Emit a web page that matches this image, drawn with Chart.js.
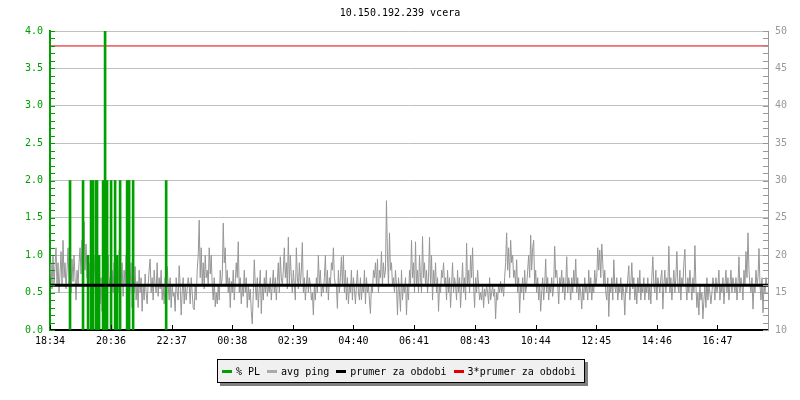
<!DOCTYPE html>
<html>
<head>
<meta charset="utf-8">
<script src="https://cdn.jsdelivr.net/npm/chart.js@4/dist/chart.umd.min.js"></script>
<style>
  body { margin: 0; background: #fff; }
  #wrap { position: relative; width: 800px; height: 400px; font-family: "DejaVu Sans Mono", monospace; font-size: 10px; }
  #title { position: absolute; top: 7px; left: 0; width: 800px; text-align: center; color: #000; }
  #legend { position: absolute; left: 217px; top: 359px; width: 362px; height: 22px; border: 1px solid #000;
            background: #f0f0f0; box-shadow: 3px 3px 0 #808080; display: flex; align-items: center; padding-left: 4px; box-sizing: content-box; }
  #legend span.sw { display: inline-block; width: 10px; height: 3px; margin-right: 4px; }
  #legend span.tx { margin-right: 7px; color: #000; white-space: pre; }
</style>
</head>
<body>
<div id="wrap">
  <canvas id="c" width="800" height="400"></canvas>
  <div id="title">10.150.192.239 vcera</div>
  <div id="legend"></div>
</div>
<script>
// time axis: minutes from 18:34
var SPAN = 1434;
var tickMinutes = [0, 122, 243, 364, 485, 606, 727, 849, 970, 1091, 1212, 1333];
var tickLabels = ['18:34', '20:36', '22:37', '00:38', '02:39', '04:40', '06:41', '08:43', '10:44', '12:45', '14:46', '16:47'];

// avg ping [ms], evenly sampled over the day
var ping = [
  17,19,15.5,20,16,18.5,21,16,19,15,17.5,20.5,16,22,17,19,15.5,18,21,16,
  18,15,19.5,16.5,20,17,14,18,16,19,21,17.5,22,19,24.5,18,21.5,17,20,16,
  19,15,18,13,17,20,14.5,18,16,19.5,13.5,17,12.5,16,19,14,18,15.5,20,16,
  17,13.5,18,15,19,16.5,14,18,15,20.5,21.4,16,19,14.5,18,16,20,15,17.5,14,
  16,19,13,17,15,18.5,14,16.5,13,18,15,17,12.5,16,14,17.5,15,13.5,16,18,
  19.5,15,17,14,18,16,15,19,14.5,17,15.5,18,14,16,13.5,17,15,18.5,16,14,
  17,13,16,14.5,15,12.5,17,15,14,18.6,16,12,15,17,13.5,16,14,15.5,17,16,13.5,17,
  15,13,12.7,16,14,18,20,24.7,17,21,16,19,15.5,20,17,18,16,21,17.5,20,
  16,14,17,13.1,15,13.5,16,14,18,16,17,24.3,19,21,16,18,15,17,13,16.5,
  15,18,14,16.5,19,17,21.8,15,17,13.5,16,14.5,18,15,17,13,16,14,15.5,12.5,
  10.8,15,19.4,16,14,17,13,15.5,18,12.2,16,14,17,15,18,14.5,16,15,17,14,
  16,18,15,17,14,16.5,19,15,19.8,17,16,18,21,17,19,15.5,22.4,16,20,17,
  15,18,16,14,21,17,15.5,19,16,18,21.7,15,17,14,16,18,15,17,16,14,
  15,12,16,14,17,15,20,16,18,14.5,16,15,17,20,15,18,14,17,16,19,
  18,21,17,16,
  16,12.9,18,15,17,19.8,16,20,15,18,14,17,13.5,16,15,18,14,17,15.5,13.5,
  16,18,15,14,17,14,16,15,18,13.5,17,15,16,14,12.2,16,15,18,17,19,
  16,19.5,15,18,17,20.5,16,19,17,18,27.3,20,16,23,18,19,16,17,15,18,
  16,12,17,15,12.5,18,14,16,15,17,12,16,14,18,16,22,17,19,15,21.8,
  16,18,15,20,17,15,22.5,17,19,16,18,15,17,22.4,16,20,14,18,16,19,
  15,17,12.5,16,15,18,17,19,16,17,14,18,15,17,13,16,19,15,17,16,
  14,18,15,17,13,16,19,15,17,14,21.6,16,18,15,20,17,21,16,13,17,
  15,18,16,14,
  15,14,16,13,15.5,14.5,16,15,13.5,17,14,15,16,14.5,15.5,11.5,15,14,16,15,
  16.5,15,16,14.5,17,19,23,18,21,17,22,19,20,17,18,16,19.4,15,17,12.3,
  16,15,17,14,18,15,16,18,20,17,22.7,18,21,22,16,18,15,17,14,16,
  12.5,15,17,14,16,19.5,15,17,14,16,15,17,14.5,16,21.2,17,18,16,13.5,17,
  16,18,15,17,14,16,19.8,15,17,16,14,17,15,18,16,19.5,15,17,14,16,
  15,12.8,16,14,17,15,16,14,18,15,17,14,16,15,18,16,17,21,18,20.7,
  17,21.5,19,16,18,15,14,17,11.8,16,15,17,14,19.4,16,15,17,14,16,15,
  17,14,16,15,
  12,16,15,17,18.6,14,16,19,15.5,17,14,16,13.5,17,15,18,14,16,15,17,
  14,16,15,17,14,16,13.5,17,19.8,16,15,18,14,17,16,15,17,18,12.8,16,
  18,15,17,16,21.2,15,17,14,16,18,15,17,20.5,16,15,18,14,17,16,19,
  20.8,16,14,17,15,18,16,14,17,15,21.3,16,13,15,12,16,14,15,11.5,14,
  16,13,17,14,16,15,13.5,15,17,16,14,17,15,16,18,14,16,15,17,13.5,
  16,18,15,17,14,16,18,15,17,16,15,17,14,16,19.8,15,17,16,14,18,
  16,20.5,17,23,18,16,15,17,12.8,16,15,18,16,17,20.9,16,14,17,12.3,16,
  15,17,16,16
];

// packet loss [%] spikes
var plMinutes = [40, 66, 76, 82, 86, 92, 94, 98, 106, 110, 114, 122, 130, 134, 140, 154, 158, 166, 232];
var plValues  = [2, 2, 1, 2, 2, 2, 2, 1, 2, 4, 2, 2, 2, 1, 2, 2, 2, 2, 2];

var avgPing = 16;       // prumer za obdobi [ms]
var avgPing3 = 48;      // 3*prumer za obdobi [ms]

var GREEN = '#00a000', GRAY = 'rgb(150,150,150)', RED = '#e00000';

var pingData = ping.map(function (v, i) { return { x: i * SPAN / (ping.length - 1), y: v }; });
var plData = plMinutes.map(function (t, i) { return { x: t, y: plValues[i] }; });

// legend (html, rrdtool style box)
var legendItems = [['% PL', GREEN], ['avg ping', '#aaaaaa'], ['prumer za obdobi', '#000'], ['3*prumer za obdobi', RED]];
var lg = document.getElementById('legend');
legendItems.forEach(function (it) {
  var sw = document.createElement('span'); sw.className = 'sw'; sw.style.background = it[1];
  var tx = document.createElement('span'); tx.className = 'tx'; tx.textContent = it[0];
  lg.appendChild(sw); lg.appendChild(tx);
});

// small inward ticks like rrdtool
var innerTicks = {
  id: 'innerTicks',
  afterDatasetsDraw: function (chart) {
    var ctx = chart.ctx, a = chart.chartArea;
    var y = chart.scales.y, y1 = chart.scales.y1, x = chart.scales.x;
    ctx.save();
    ctx.lineWidth = 1;
    ctx.strokeStyle = GREEN;
    for (var v = 0; v <= 40; v++) {
      var py = Math.round(y.getPixelForValue(v / 10)) + 0.5;
      ctx.beginPath(); ctx.moveTo(a.left, py); ctx.lineTo(a.left + 5, py); ctx.stroke();
    }
    ctx.strokeStyle = '#999';
    for (var w = 10; w <= 50; w++) {
      var py2 = Math.round(y1.getPixelForValue(w)) + 0.5;
      ctx.beginPath(); ctx.moveTo(a.right - 5, py2); ctx.lineTo(a.right, py2); ctx.stroke();
    }
    ctx.strokeStyle = '#000';
    tickMinutes.forEach(function (t) {
      var px = Math.round(x.getPixelForValue(t)) + 0.5;
      ctx.beginPath(); ctx.moveTo(px, a.bottom); ctx.lineTo(px, a.bottom - 5); ctx.stroke();
    });
    ctx.restore();
  }
};

var font = { family: '"DejaVu Sans Mono", monospace', size: 10 };

new Chart(document.getElementById('c'), {
  type: 'bar',
  data: {
    datasets: [
      { type: 'line', label: 'prumer za obdobi', data: [{ x: 0, y: avgPing }, { x: SPAN, y: avgPing }],
        yAxisID: 'y1', borderColor: '#000', borderWidth: 3, pointRadius: 0, order: 0 },
      { type: 'bar', label: '% PL', data: plData, yAxisID: 'y', backgroundColor: GREEN,
        barThickness: 2, grouped: false, order: 1 },
      { type: 'line', label: '3*prumer za obdobi', data: [{ x: 0, y: avgPing3 }, { x: SPAN, y: avgPing3 }],
        yAxisID: 'y1', borderColor: RED, borderWidth: 1, pointRadius: 0, order: 2 },
      { type: 'line', label: 'avg ping', data: pingData, yAxisID: 'y1', borderColor: GRAY,
        borderWidth: 1, pointRadius: 0, tension: 0, order: 3 }
    ]
  },
  options: {
    responsive: false,
    animation: false,
    layout: { padding: { top: 31, bottom: 50, left: 0, right: 0 } },
    plugins: { legend: { display: false }, title: { display: false }, tooltip: { enabled: false } },
    scales: {
      x: {
        type: 'linear', min: 0, max: SPAN, offset: false,
        afterBuildTicks: function (s) { s.ticks = tickMinutes.map(function (t) { return { value: t }; }); },
        afterFit: function (s) { s.height = 20; },
        ticks: { color: '#000', font: font, padding: 5, maxRotation: 0, autoSkip: false,
          callback: function (v, i) { return tickLabels[i]; } },
        grid: { display: false, drawTicks: false },
        border: { display: true, color: '#000', width: 2 }
      },
      y: {
        position: 'left', min: 0, max: 4,
        afterFit: function (s) { s.width = 50; },
        ticks: { stepSize: 0.5, color: GREEN, font: font, padding: 7,
          callback: function (v) { return v.toFixed(1); } },
        grid: { color: '#c0c0c0', lineWidth: 1, drawTicks: false },
        border: { display: true, color: GREEN, width: 2 }
      },
      y1: {
        position: 'right', min: 10, max: 50,
        afterFit: function (s) { s.width = 32; },
        ticks: { stepSize: 5, color: '#999', font: font, padding: 7 },
        grid: { drawOnChartArea: false, drawTicks: false },
        border: { display: true, color: '#999', width: 1 }
      }
    }
  },
  plugins: [innerTicks]
});
</script>
</body>
</html>
